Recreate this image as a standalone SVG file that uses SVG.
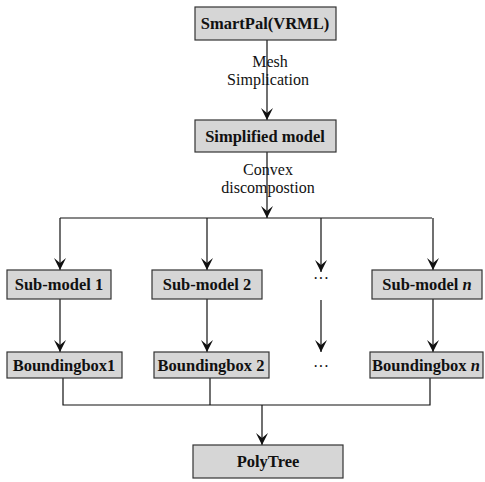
<svg xmlns="http://www.w3.org/2000/svg" width="485" height="482" viewBox="0 0 485 482">
<style>
.box{fill:#d6d6d6;stroke:#333;stroke-width:1.2}
.lbl{font-family:"Liberation Serif",serif;font-weight:bold;font-size:16.5px;fill:#111;text-anchor:middle}
.note{font-family:"Liberation Serif",serif;font-size:16px;fill:#111;text-anchor:middle}
.ln{stroke:#111;stroke-width:1.2;fill:none}
</style>
<defs>
<marker id="ah" viewBox="0 0 14 12" refX="14" refY="6" markerWidth="14" markerHeight="12" markerUnits="userSpaceOnUse" orient="auto">
<path d="M2,0 L14,6 L2,12 L7,6 Z" fill="#111"/>
</marker>
</defs>
<rect width="485" height="482" fill="#fff"/>
<g id="connectors">
<line class="ln" x1="267" y1="40" x2="267" y2="120" marker-end="url(#ah)"/>
<line class="ln" x1="267" y1="152" x2="267" y2="218" marker-end="url(#ah)"/>
<line class="ln" x1="60" y1="218" x2="432" y2="218"/>
<line class="ln" x1="60" y1="218" x2="60" y2="270" marker-end="url(#ah)"/>
<line class="ln" x1="207" y1="218" x2="207" y2="270" marker-end="url(#ah)"/>
<line class="ln" x1="321" y1="218" x2="321" y2="272" marker-end="url(#ah)"/>
<line class="ln" x1="433" y1="218" x2="433" y2="270" marker-end="url(#ah)"/>
<line class="ln" x1="60" y1="299" x2="60" y2="352" marker-end="url(#ah)"/>
<line class="ln" x1="207" y1="299" x2="207" y2="352" marker-end="url(#ah)"/>
<line class="ln" x1="321" y1="300" x2="321" y2="352" marker-end="url(#ah)"/>
<line class="ln" x1="433" y1="299" x2="433" y2="352" marker-end="url(#ah)"/>
<polyline class="ln" points="63,378 63,405 430,405 430,378"/>
<line class="ln" x1="210" y1="378" x2="210" y2="405"/>
<line class="ln" x1="262" y1="405" x2="262" y2="445" marker-end="url(#ah)"/>
</g>
<text class="note" x="270" y="67">Mesh</text>
<text class="note" x="268" y="85">Simplication</text>
<text class="note" x="268" y="175">Convex</text>
<text class="note" x="268" y="193">discompostion</text>
<text class="note" x="321" y="284">···</text>
<text class="note" x="321" y="372">···</text>
<g id="smartpal"><rect class="box" x="195" y="7" width="141" height="33"/><text class="lbl" x="265" y="29">SmartPal(VRML)</text></g>
<g id="simplified"><rect class="box" x="195" y="120" width="141" height="32"/><text class="lbl" x="265" y="142">Simplified model</text></g>
<g id="sub1"><rect class="box" x="7" y="270" width="104" height="29"/><text class="lbl" x="59" y="290">Sub-model 1</text></g>
<g id="sub2"><rect class="box" x="152" y="270" width="110" height="29"/><text class="lbl" x="207" y="290">Sub-model 2</text></g>
<g id="subn"><rect class="box" x="372" y="270" width="110" height="29"/><text class="lbl" x="427" y="290">Sub-model <tspan font-style="italic">n</tspan></text></g>
<g id="bb1"><rect class="box" x="7" y="352" width="115" height="26"/><text class="lbl" x="64" y="371">Boundingbox1</text></g>
<g id="bb2"><rect class="box" x="154" y="352" width="115" height="26"/><text class="lbl" x="211" y="371">Boundingbox 2</text></g>
<g id="bbn"><rect class="box" x="370" y="352" width="113" height="26"/><text class="lbl" x="426" y="371">Boundingbox <tspan font-style="italic">n</tspan></text></g>
<g id="polytree"><rect class="box" x="193" y="445" width="150" height="33"/><text class="lbl" x="268" y="467">PolyTree</text></g>
</svg>
